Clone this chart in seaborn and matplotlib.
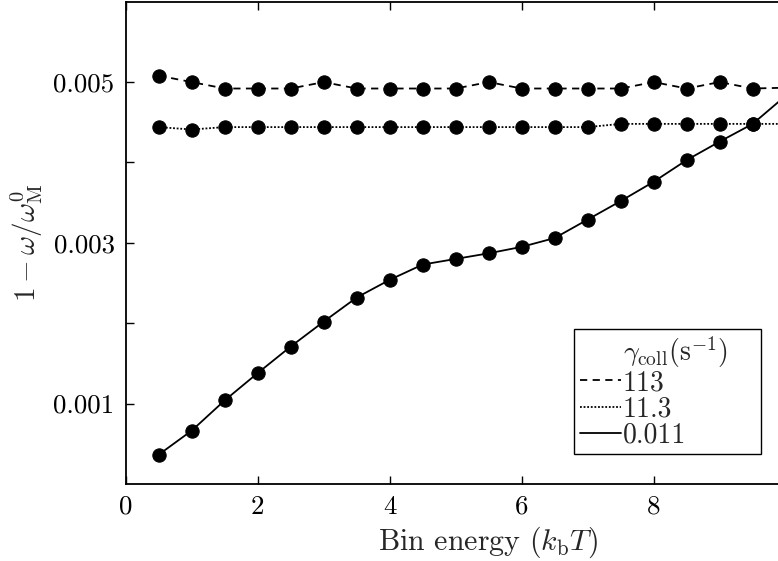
import matplotlib
matplotlib.use("Agg")
import matplotlib.pyplot as plt
from matplotlib.lines import Line2D
import seaborn as sns
import pandas as pd

# ---- data ----
bin_energy = [0.5, 1.0, 1.5, 2.0, 2.5, 3.0, 3.5, 4.0, 4.5, 5.0,
              5.5, 6.0, 6.5, 7.0, 7.5, 8.0, 8.5, 9.0, 9.5, 10.0]
gamma_113 = [0.00508, 0.00500, 0.00492, 0.00492, 0.00492, 0.00500, 0.00492, 0.00492, 0.00492, 0.00492,
             0.00500, 0.00492, 0.00492, 0.00492, 0.00492, 0.00500, 0.00492, 0.00500, 0.00492, 0.00493]
gamma_11_3 = [0.00444, 0.00441, 0.00444, 0.00444, 0.00444, 0.00444, 0.00444, 0.00444, 0.00444, 0.00444,
              0.00444, 0.00444, 0.00444, 0.00444, 0.00448, 0.00448, 0.00448, 0.00448, 0.00448, 0.00448]
gamma_0_011 = [0.000365, 0.000664, 0.00104, 0.00138, 0.00171, 0.00202, 0.00232, 0.00254, 0.00273, 0.00280,
               0.00287, 0.00295, 0.00306, 0.00329, 0.00352, 0.00376, 0.00403, 0.00426, 0.00448, 0.00483]
series_labels = ["113", "11.3", "0.011"]
legend_title = r"$\gamma_{\rm coll}(\mathrm{s}^{-1})$"
x_ticks = [0, 2, 4, 6, 8]
y_ticks = [0.001, 0.002, 0.003, 0.004, 0.005]
y_tick_labels = ["0.001", "", "0.003", "", "0.005"]

sns.set_theme(style="ticks")
plt.rcParams.update({
    "font.family": ["cmr10", "DejaVu Serif"],
    "mathtext.fontset": "cm",
    "axes.unicode_minus": False,
    "axes.formatter.use_mathtext": True,
})

df = pd.concat([
    pd.DataFrame({"x": bin_energy, "y": gamma_113, "g": series_labels[0]}),
    pd.DataFrame({"x": bin_energy, "y": gamma_11_3, "g": series_labels[1]}),
    pd.DataFrame({"x": bin_energy, "y": gamma_0_011, "g": series_labels[2]}),
])

W, H = 778, 561
fig = plt.figure(figsize=(W / 100, H / 100), dpi=100)
left, right_px, top_px, bottom_px = 125.7, 125.7 + 660, 1.7, 484
ax = fig.add_axes([left / W, (H - bottom_px) / H, (right_px - left) / W, (bottom_px - top_px) / H])

styles = {"113": (0, (4, 3)), "11.3": (0, (1, 1)), "0.011": "-"}
for lab in series_labels:
    sub = df[df.g == lab]
    sns.lineplot(data=sub, x="x", y="y", ax=ax, color="black", linewidth=1.3,
                 linestyle=styles[lab], marker="o", markersize=9.6,
                 markeredgecolor="black", markerfacecolor="black", legend=False)

ax.set_xlim(0, 10)
ax.set_ylim(0, 0.006)
ax.set_xticks(x_ticks)
ax.set_xticklabels([str(t) for t in x_ticks])
ax.set_yticks(y_ticks)
ax.set_yticklabels(y_tick_labels)
ax.tick_params(direction="in", top=True, right=True, length=6, width=1,
               labelsize=19.4, pad=8, colors="black")
for sp in ax.spines.values():
    sp.set_color("black")
    sp.set_linewidth(1.3)

ax.set_xlabel(r"Bin energy $(k_{\rm b}T)$", fontsize=21.5)
ax.xaxis.set_label_coords((488 - left) / 660, (bottom_px - 550) / (bottom_px - top_px))
ax.xaxis.label.set_va("baseline")
ax.set_ylabel(r"$1-\omega/\omega_{\rm M}^0$", fontsize=21, labelpad=6)

handles = [Line2D([], [], linestyle="none")] + \
          [Line2D([], [], color="black", lw=1.3, linestyle=styles[l]) for l in series_labels]
labels = [legend_title] + series_labels
leg = ax.legend(handles, labels, loc="lower left", mode="expand",
                bbox_to_anchor=(574 / W, (H - 454.3) / H, 187 / W, 125 / H),
                bbox_transform=fig.transFigure, fontsize=20,
                frameon=True, fancybox=False, framealpha=1, edgecolor="black",
                handlelength=1.5, handletextpad=0.05, labelspacing=0.0,
                borderpad=0.2, borderaxespad=0)
leg.get_frame().set_linewidth(1.0)

fig.savefig("out.png", dpi=100)
